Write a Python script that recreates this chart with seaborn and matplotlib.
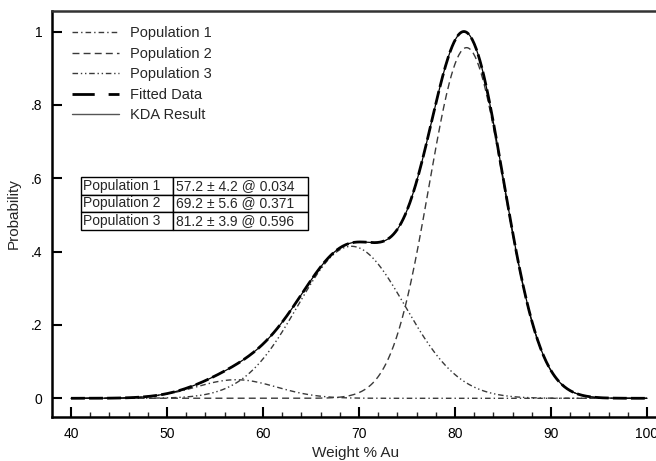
import numpy as np
import pandas as pd
import matplotlib
matplotlib.use("Agg")
import matplotlib.pyplot as plt
from matplotlib.lines import Line2D
from matplotlib.ticker import FixedLocator, MultipleLocator
import seaborn as sns

# Gaussian mixture components: mean, standard deviation, weight
pop_names = ["Population 1", "Population 2", "Population 3"]
pop_means = [57.2, 69.2, 81.2]
pop_sds = [4.2, 5.6, 3.9]
pop_weights = [0.034, 0.371, 0.596]

x_start, x_stop, x_step = 40.0, 100.0, 0.1

x_ticks = [40, 50, 60, 70, 80, 90, 100]
y_ticks = [0, 0.2, 0.4, 0.6, 0.8, 1.0]
y_tick_labels = ["0", ".2", ".4", ".6", ".8", "1"]

sns.set_style("ticks")
plt.rcParams["font.family"] = ["Liberation Sans", "DejaVu Sans"]

x = np.arange(x_start, x_stop + x_step / 2, x_step)
comps = []
for m, s, w in zip(pop_means, pop_sds, pop_weights):
    comps.append(w / (s * np.sqrt(2 * np.pi)) * np.exp(-0.5 * ((x - m) / s) ** 2))
total = np.sum(comps, axis=0)
scale = total.max()
comps = [c / scale for c in comps]
fitted = total / scale

df = pd.DataFrame({"x": x, "fit": fitted,
                   "p1": comps[0], "p2": comps[1], "p3": comps[2]})

fig = plt.figure(figsize=(6.56, 4.61), dpi=100)
ax = fig.add_axes([52 / 656, 1 - 417 / 461, 608 / 656, 406 / 461])

grey = "#3a3a3a"
dash_dot = (0, (4, 2.2, 1, 2.2))
dash_dot_dot = (0, (4, 2, 1, 2, 1, 2))
dashed = (0, (5, 3))

common = dict(estimator=None, sort=False, ax=ax)
sns.lineplot(data=df, x="x", y="p1", color=grey, linewidth=1.0,
             linestyle=dash_dot, **common)
sns.lineplot(data=df, x="x", y="p2", color=grey, linewidth=1.0,
             linestyle=dash_dot_dot, **common)
sns.lineplot(data=df, x="x", y="p3", color=grey, linewidth=1.0,
             linestyle=dashed, **common)
# KDA result (thin solid) under the fitted curve (thick dashed)
sns.lineplot(data=df, x="x", y="fit", color="black", linewidth=0.9,
             linestyle="-", **common)
sns.lineplot(data=df, x="x", y="fit", color="black", linewidth=2.0,
             linestyle=(0, (5, 1.5)), **common)

ax.set_xlim(38.02, 101.35)
ax.set_ylim(-0.051, 1.056)
ax.xaxis.set_major_locator(FixedLocator(x_ticks))
ax.xaxis.set_minor_locator(MultipleLocator(2))
ax.yaxis.set_major_locator(FixedLocator(y_ticks))
ax.set_yticklabels(y_tick_labels)
ax.tick_params(axis="both", which="major", direction="in", length=7,
               width=1.5, labelsize=10, pad=7, colors="black")
ax.tick_params(axis="x", which="minor", direction="in", length=3.5,
               width=1.0)
for side in ["left", "bottom", "top", "right"]:
    ax.spines[side].set_visible(True)
    ax.spines[side].set_linewidth(1.8)
    ax.spines[side].set_color("black")
ax.spines["top"].set_color("#333333")

ax.set_xlabel("Weight % Au", fontsize=11, labelpad=4)
ax.set_ylabel("Probability", fontsize=11, labelpad=7)

handles = [
    Line2D([], [], color=grey, linewidth=1.0, linestyle=dash_dot),
    Line2D([], [], color=grey, linewidth=1.0, linestyle=dashed),
    Line2D([], [], color=grey, linewidth=1.0, linestyle=dash_dot_dot),
    Line2D([], [], color="black", linewidth=2.0, linestyle=(0, (8, 5))),
    Line2D([], [], color="#555555", linewidth=1.0, linestyle="-"),
]
labels = ["Population 1", "Population 2", "Population 3",
          "Fitted Data", "KDA Result"]
ax.legend(handles, labels, loc="upper left", frameon=False,
          bbox_to_anchor=(0.033, 0.962), borderaxespad=0, borderpad=0,
          fontsize=10.5, handlelength=3.2, handletextpad=0.8,
          labelspacing=0.44)

cell_text = [[n, f"{m:.1f} \u00b1 {s:.1f} @ {w:.3f}"]
             for n, m, s, w in zip(pop_names, pop_means, pop_sds, pop_weights)]
tab = ax.table(cellText=cell_text, cellLoc="left",
               colWidths=[0.405, 0.595],
               bbox=[29 / 608, 187 / 406, 227 / 608, 53 / 406])
tab.auto_set_font_size(False)
tab.set_fontsize(10)
for (r, c), cell in tab.get_celld().items():
    cell.PAD = 0.02
    cell.set_linewidth(1.0)
    cell.set_edgecolor("black")

fig.savefig("out.png", dpi=100)
